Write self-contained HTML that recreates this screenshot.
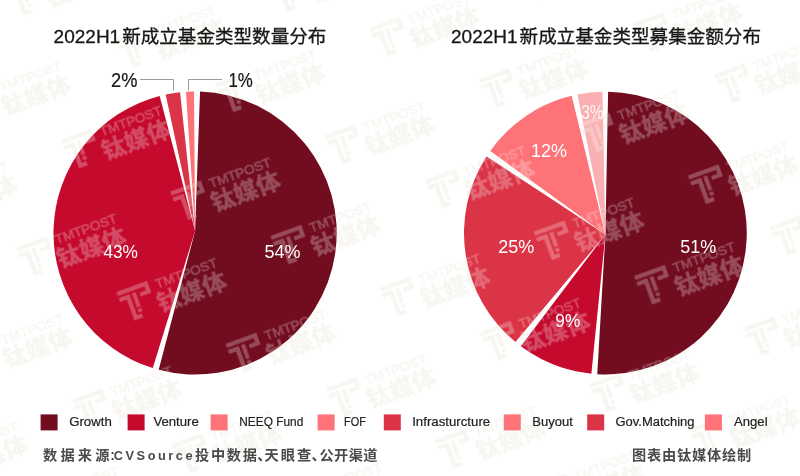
<!DOCTYPE html>
<html lang="zh-CN">
<head>
<meta charset="utf-8">
<title>2022H1新成立基金类型分布</title>
<style>
html,body{margin:0;padding:0;background:#fff;}
body{width:800px;height:476px;overflow:hidden;}
svg{display:block;font-family:'Liberation Sans','Noto Sans CJK SC',sans-serif;}
</style>
</head>
<body>
<svg width="800" height="476" viewBox="0 0 800 476">
<rect width="800" height="476" fill="#fff"/>
<g transform="rotate(-20.0)" fill="#D7CBAF" stroke="#D7CBAF" stroke-width="0" opacity="0.18"><g transform="translate(-233.6 400.2)"><path d="M0 0H32.6V12.5H21.5V8.5H28.3V4.4H0Z M0 6.6H11.6V33H7.2V10.8H0Z M11.6 28.8H16.6V33H11.6Z M14 6.6H18V21.5H14Z M14 23.2H18V27H14Z"/><text x="39.5" y="10.8" font-size="13.4" textLength="65" lengthAdjust="spacingAndGlyphs" stroke-width="0.5">TMTPOST</text><text x="34.8" y="33.6" font-size="22.5" font-weight="700" textLength="72" lengthAdjust="spacingAndGlyphs" stroke-width="0.4">钛媒体</text></g><g transform="translate(-69.6 -85.8)"><path d="M0 0H32.6V12.5H21.5V8.5H28.3V4.4H0Z M0 6.6H11.6V33H7.2V10.8H0Z M11.6 28.8H16.6V33H11.6Z M14 6.6H18V21.5H14Z M14 23.2H18V27H14Z"/><text x="39.5" y="10.8" font-size="13.4" textLength="65" lengthAdjust="spacingAndGlyphs" stroke-width="0.5">TMTPOST</text><text x="34.8" y="33.6" font-size="22.5" font-weight="700" textLength="72" lengthAdjust="spacingAndGlyphs" stroke-width="0.4">钛媒体</text></g><g transform="translate(-69.6 76.2)"><path d="M0 0H32.6V12.5H21.5V8.5H28.3V4.4H0Z M0 6.6H11.6V33H7.2V10.8H0Z M11.6 28.8H16.6V33H11.6Z M14 6.6H18V21.5H14Z M14 23.2H18V27H14Z"/><text x="39.5" y="10.8" font-size="13.4" textLength="65" lengthAdjust="spacingAndGlyphs" stroke-width="0.5">TMTPOST</text><text x="34.8" y="33.6" font-size="22.5" font-weight="700" textLength="72" lengthAdjust="spacingAndGlyphs" stroke-width="0.4">钛媒体</text></g><g transform="translate(-154.5 152.2)"><path d="M0 0H32.6V12.5H21.5V8.5H28.3V4.4H0Z M0 6.6H11.6V33H7.2V10.8H0Z M11.6 28.8H16.6V33H11.6Z M14 6.6H18V21.5H14Z M14 23.2H18V27H14Z"/><text x="39.5" y="10.8" font-size="13.4" textLength="65" lengthAdjust="spacingAndGlyphs" stroke-width="0.5">TMTPOST</text><text x="34.8" y="33.6" font-size="22.5" font-weight="700" textLength="72" lengthAdjust="spacingAndGlyphs" stroke-width="0.4">钛媒体</text></g><g transform="translate(-69.6 238.2)"><path d="M0 0H32.6V12.5H21.5V8.5H28.3V4.4H0Z M0 6.6H11.6V33H7.2V10.8H0Z M11.6 28.8H16.6V33H11.6Z M14 6.6H18V21.5H14Z M14 23.2H18V27H14Z"/><text x="39.5" y="10.8" font-size="13.4" textLength="65" lengthAdjust="spacingAndGlyphs" stroke-width="0.5">TMTPOST</text><text x="34.8" y="33.6" font-size="22.5" font-weight="700" textLength="72" lengthAdjust="spacingAndGlyphs" stroke-width="0.4">钛媒体</text></g><g transform="translate(-154.5 314.2)"><path d="M0 0H32.6V12.5H21.5V8.5H28.3V4.4H0Z M0 6.6H11.6V33H7.2V10.8H0Z M11.6 28.8H16.6V33H11.6Z M14 6.6H18V21.5H14Z M14 23.2H18V27H14Z"/><text x="39.5" y="10.8" font-size="13.4" textLength="65" lengthAdjust="spacingAndGlyphs" stroke-width="0.5">TMTPOST</text><text x="34.8" y="33.6" font-size="22.5" font-weight="700" textLength="72" lengthAdjust="spacingAndGlyphs" stroke-width="0.4">钛媒体</text></g><g transform="translate(-69.6 400.2)"><path d="M0 0H32.6V12.5H21.5V8.5H28.3V4.4H0Z M0 6.6H11.6V33H7.2V10.8H0Z M11.6 28.8H16.6V33H11.6Z M14 6.6H18V21.5H14Z M14 23.2H18V27H14Z"/><text x="39.5" y="10.8" font-size="13.4" textLength="65" lengthAdjust="spacingAndGlyphs" stroke-width="0.5">TMTPOST</text><text x="34.8" y="33.6" font-size="22.5" font-weight="700" textLength="72" lengthAdjust="spacingAndGlyphs" stroke-width="0.4">钛媒体</text></g><g transform="translate(-154.5 476.2)"><path d="M0 0H32.6V12.5H21.5V8.5H28.3V4.4H0Z M0 6.6H11.6V33H7.2V10.8H0Z M11.6 28.8H16.6V33H11.6Z M14 6.6H18V21.5H14Z M14 23.2H18V27H14Z"/><text x="39.5" y="10.8" font-size="13.4" textLength="65" lengthAdjust="spacingAndGlyphs" stroke-width="0.5">TMTPOST</text><text x="34.8" y="33.6" font-size="22.5" font-weight="700" textLength="72" lengthAdjust="spacingAndGlyphs" stroke-width="0.4">钛媒体</text></g><g transform="translate(9.5 -9.8)"><path d="M0 0H32.6V12.5H21.5V8.5H28.3V4.4H0Z M0 6.6H11.6V33H7.2V10.8H0Z M11.6 28.8H16.6V33H11.6Z M14 6.6H18V21.5H14Z M14 23.2H18V27H14Z"/><text x="39.5" y="10.8" font-size="13.4" textLength="65" lengthAdjust="spacingAndGlyphs" stroke-width="0.5">TMTPOST</text><text x="34.8" y="33.6" font-size="22.5" font-weight="700" textLength="72" lengthAdjust="spacingAndGlyphs" stroke-width="0.4">钛媒体</text></g><g transform="translate(94.4 76.2)"><path d="M0 0H32.6V12.5H21.5V8.5H28.3V4.4H0Z M0 6.6H11.6V33H7.2V10.8H0Z M11.6 28.8H16.6V33H11.6Z M14 6.6H18V21.5H14Z M14 23.2H18V27H14Z"/><text x="39.5" y="10.8" font-size="13.4" textLength="65" lengthAdjust="spacingAndGlyphs" stroke-width="0.5">TMTPOST</text><text x="34.8" y="33.6" font-size="22.5" font-weight="700" textLength="72" lengthAdjust="spacingAndGlyphs" stroke-width="0.4">钛媒体</text></g><g transform="translate(9.5 152.2)"><path d="M0 0H32.6V12.5H21.5V8.5H28.3V4.4H0Z M0 6.6H11.6V33H7.2V10.8H0Z M11.6 28.8H16.6V33H11.6Z M14 6.6H18V21.5H14Z M14 23.2H18V27H14Z"/><text x="39.5" y="10.8" font-size="13.4" textLength="65" lengthAdjust="spacingAndGlyphs" stroke-width="0.5">TMTPOST</text><text x="34.8" y="33.6" font-size="22.5" font-weight="700" textLength="72" lengthAdjust="spacingAndGlyphs" stroke-width="0.4">钛媒体</text></g><g transform="translate(94.4 238.2)"><path d="M0 0H32.6V12.5H21.5V8.5H28.3V4.4H0Z M0 6.6H11.6V33H7.2V10.8H0Z M11.6 28.8H16.6V33H11.6Z M14 6.6H18V21.5H14Z M14 23.2H18V27H14Z"/><text x="39.5" y="10.8" font-size="13.4" textLength="65" lengthAdjust="spacingAndGlyphs" stroke-width="0.5">TMTPOST</text><text x="34.8" y="33.6" font-size="22.5" font-weight="700" textLength="72" lengthAdjust="spacingAndGlyphs" stroke-width="0.4">钛媒体</text></g><g transform="translate(9.5 314.2)"><path d="M0 0H32.6V12.5H21.5V8.5H28.3V4.4H0Z M0 6.6H11.6V33H7.2V10.8H0Z M11.6 28.8H16.6V33H11.6Z M14 6.6H18V21.5H14Z M14 23.2H18V27H14Z"/><text x="39.5" y="10.8" font-size="13.4" textLength="65" lengthAdjust="spacingAndGlyphs" stroke-width="0.5">TMTPOST</text><text x="34.8" y="33.6" font-size="22.5" font-weight="700" textLength="72" lengthAdjust="spacingAndGlyphs" stroke-width="0.4">钛媒体</text></g><g transform="translate(94.4 400.2)"><path d="M0 0H32.6V12.5H21.5V8.5H28.3V4.4H0Z M0 6.6H11.6V33H7.2V10.8H0Z M11.6 28.8H16.6V33H11.6Z M14 6.6H18V21.5H14Z M14 23.2H18V27H14Z"/><text x="39.5" y="10.8" font-size="13.4" textLength="65" lengthAdjust="spacingAndGlyphs" stroke-width="0.5">TMTPOST</text><text x="34.8" y="33.6" font-size="22.5" font-weight="700" textLength="72" lengthAdjust="spacingAndGlyphs" stroke-width="0.4">钛媒体</text></g><g transform="translate(9.5 476.2)"><path d="M0 0H32.6V12.5H21.5V8.5H28.3V4.4H0Z M0 6.6H11.6V33H7.2V10.8H0Z M11.6 28.8H16.6V33H11.6Z M14 6.6H18V21.5H14Z M14 23.2H18V27H14Z"/><text x="39.5" y="10.8" font-size="13.4" textLength="65" lengthAdjust="spacingAndGlyphs" stroke-width="0.5">TMTPOST</text><text x="34.8" y="33.6" font-size="22.5" font-weight="700" textLength="72" lengthAdjust="spacingAndGlyphs" stroke-width="0.4">钛媒体</text></g><g transform="translate(94.4 562.2)"><path d="M0 0H32.6V12.5H21.5V8.5H28.3V4.4H0Z M0 6.6H11.6V33H7.2V10.8H0Z M11.6 28.8H16.6V33H11.6Z M14 6.6H18V21.5H14Z M14 23.2H18V27H14Z"/><text x="39.5" y="10.8" font-size="13.4" textLength="65" lengthAdjust="spacingAndGlyphs" stroke-width="0.5">TMTPOST</text><text x="34.8" y="33.6" font-size="22.5" font-weight="700" textLength="72" lengthAdjust="spacingAndGlyphs" stroke-width="0.4">钛媒体</text></g><g transform="translate(258.4 76.2)"><path d="M0 0H32.6V12.5H21.5V8.5H28.3V4.4H0Z M0 6.6H11.6V33H7.2V10.8H0Z M11.6 28.8H16.6V33H11.6Z M14 6.6H18V21.5H14Z M14 23.2H18V27H14Z"/><text x="39.5" y="10.8" font-size="13.4" textLength="65" lengthAdjust="spacingAndGlyphs" stroke-width="0.5">TMTPOST</text><text x="34.8" y="33.6" font-size="22.5" font-weight="700" textLength="72" lengthAdjust="spacingAndGlyphs" stroke-width="0.4">钛媒体</text></g><g transform="translate(173.5 152.2)"><path d="M0 0H32.6V12.5H21.5V8.5H28.3V4.4H0Z M0 6.6H11.6V33H7.2V10.8H0Z M11.6 28.8H16.6V33H11.6Z M14 6.6H18V21.5H14Z M14 23.2H18V27H14Z"/><text x="39.5" y="10.8" font-size="13.4" textLength="65" lengthAdjust="spacingAndGlyphs" stroke-width="0.5">TMTPOST</text><text x="34.8" y="33.6" font-size="22.5" font-weight="700" textLength="72" lengthAdjust="spacingAndGlyphs" stroke-width="0.4">钛媒体</text></g><g transform="translate(258.4 238.2)"><path d="M0 0H32.6V12.5H21.5V8.5H28.3V4.4H0Z M0 6.6H11.6V33H7.2V10.8H0Z M11.6 28.8H16.6V33H11.6Z M14 6.6H18V21.5H14Z M14 23.2H18V27H14Z"/><text x="39.5" y="10.8" font-size="13.4" textLength="65" lengthAdjust="spacingAndGlyphs" stroke-width="0.5">TMTPOST</text><text x="34.8" y="33.6" font-size="22.5" font-weight="700" textLength="72" lengthAdjust="spacingAndGlyphs" stroke-width="0.4">钛媒体</text></g><g transform="translate(173.5 314.2)"><path d="M0 0H32.6V12.5H21.5V8.5H28.3V4.4H0Z M0 6.6H11.6V33H7.2V10.8H0Z M11.6 28.8H16.6V33H11.6Z M14 6.6H18V21.5H14Z M14 23.2H18V27H14Z"/><text x="39.5" y="10.8" font-size="13.4" textLength="65" lengthAdjust="spacingAndGlyphs" stroke-width="0.5">TMTPOST</text><text x="34.8" y="33.6" font-size="22.5" font-weight="700" textLength="72" lengthAdjust="spacingAndGlyphs" stroke-width="0.4">钛媒体</text></g><g transform="translate(258.4 400.2)"><path d="M0 0H32.6V12.5H21.5V8.5H28.3V4.4H0Z M0 6.6H11.6V33H7.2V10.8H0Z M11.6 28.8H16.6V33H11.6Z M14 6.6H18V21.5H14Z M14 23.2H18V27H14Z"/><text x="39.5" y="10.8" font-size="13.4" textLength="65" lengthAdjust="spacingAndGlyphs" stroke-width="0.5">TMTPOST</text><text x="34.8" y="33.6" font-size="22.5" font-weight="700" textLength="72" lengthAdjust="spacingAndGlyphs" stroke-width="0.4">钛媒体</text></g><g transform="translate(173.5 476.2)"><path d="M0 0H32.6V12.5H21.5V8.5H28.3V4.4H0Z M0 6.6H11.6V33H7.2V10.8H0Z M11.6 28.8H16.6V33H11.6Z M14 6.6H18V21.5H14Z M14 23.2H18V27H14Z"/><text x="39.5" y="10.8" font-size="13.4" textLength="65" lengthAdjust="spacingAndGlyphs" stroke-width="0.5">TMTPOST</text><text x="34.8" y="33.6" font-size="22.5" font-weight="700" textLength="72" lengthAdjust="spacingAndGlyphs" stroke-width="0.4">钛媒体</text></g><g transform="translate(258.4 562.2)"><path d="M0 0H32.6V12.5H21.5V8.5H28.3V4.4H0Z M0 6.6H11.6V33H7.2V10.8H0Z M11.6 28.8H16.6V33H11.6Z M14 6.6H18V21.5H14Z M14 23.2H18V27H14Z"/><text x="39.5" y="10.8" font-size="13.4" textLength="65" lengthAdjust="spacingAndGlyphs" stroke-width="0.5">TMTPOST</text><text x="34.8" y="33.6" font-size="22.5" font-weight="700" textLength="72" lengthAdjust="spacingAndGlyphs" stroke-width="0.4">钛媒体</text></g><g transform="translate(337.5 152.2)"><path d="M0 0H32.6V12.5H21.5V8.5H28.3V4.4H0Z M0 6.6H11.6V33H7.2V10.8H0Z M11.6 28.8H16.6V33H11.6Z M14 6.6H18V21.5H14Z M14 23.2H18V27H14Z"/><text x="39.5" y="10.8" font-size="13.4" textLength="65" lengthAdjust="spacingAndGlyphs" stroke-width="0.5">TMTPOST</text><text x="34.8" y="33.6" font-size="22.5" font-weight="700" textLength="72" lengthAdjust="spacingAndGlyphs" stroke-width="0.4">钛媒体</text></g><g transform="translate(422.4 238.2)"><path d="M0 0H32.6V12.5H21.5V8.5H28.3V4.4H0Z M0 6.6H11.6V33H7.2V10.8H0Z M11.6 28.8H16.6V33H11.6Z M14 6.6H18V21.5H14Z M14 23.2H18V27H14Z"/><text x="39.5" y="10.8" font-size="13.4" textLength="65" lengthAdjust="spacingAndGlyphs" stroke-width="0.5">TMTPOST</text><text x="34.8" y="33.6" font-size="22.5" font-weight="700" textLength="72" lengthAdjust="spacingAndGlyphs" stroke-width="0.4">钛媒体</text></g><g transform="translate(337.5 314.2)"><path d="M0 0H32.6V12.5H21.5V8.5H28.3V4.4H0Z M0 6.6H11.6V33H7.2V10.8H0Z M11.6 28.8H16.6V33H11.6Z M14 6.6H18V21.5H14Z M14 23.2H18V27H14Z"/><text x="39.5" y="10.8" font-size="13.4" textLength="65" lengthAdjust="spacingAndGlyphs" stroke-width="0.5">TMTPOST</text><text x="34.8" y="33.6" font-size="22.5" font-weight="700" textLength="72" lengthAdjust="spacingAndGlyphs" stroke-width="0.4">钛媒体</text></g><g transform="translate(422.4 400.2)"><path d="M0 0H32.6V12.5H21.5V8.5H28.3V4.4H0Z M0 6.6H11.6V33H7.2V10.8H0Z M11.6 28.8H16.6V33H11.6Z M14 6.6H18V21.5H14Z M14 23.2H18V27H14Z"/><text x="39.5" y="10.8" font-size="13.4" textLength="65" lengthAdjust="spacingAndGlyphs" stroke-width="0.5">TMTPOST</text><text x="34.8" y="33.6" font-size="22.5" font-weight="700" textLength="72" lengthAdjust="spacingAndGlyphs" stroke-width="0.4">钛媒体</text></g><g transform="translate(337.5 476.2)"><path d="M0 0H32.6V12.5H21.5V8.5H28.3V4.4H0Z M0 6.6H11.6V33H7.2V10.8H0Z M11.6 28.8H16.6V33H11.6Z M14 6.6H18V21.5H14Z M14 23.2H18V27H14Z"/><text x="39.5" y="10.8" font-size="13.4" textLength="65" lengthAdjust="spacingAndGlyphs" stroke-width="0.5">TMTPOST</text><text x="34.8" y="33.6" font-size="22.5" font-weight="700" textLength="72" lengthAdjust="spacingAndGlyphs" stroke-width="0.4">钛媒体</text></g><g transform="translate(422.4 562.2)"><path d="M0 0H32.6V12.5H21.5V8.5H28.3V4.4H0Z M0 6.6H11.6V33H7.2V10.8H0Z M11.6 28.8H16.6V33H11.6Z M14 6.6H18V21.5H14Z M14 23.2H18V27H14Z"/><text x="39.5" y="10.8" font-size="13.4" textLength="65" lengthAdjust="spacingAndGlyphs" stroke-width="0.5">TMTPOST</text><text x="34.8" y="33.6" font-size="22.5" font-weight="700" textLength="72" lengthAdjust="spacingAndGlyphs" stroke-width="0.4">钛媒体</text></g><g transform="translate(337.5 638.2)"><path d="M0 0H32.6V12.5H21.5V8.5H28.3V4.4H0Z M0 6.6H11.6V33H7.2V10.8H0Z M11.6 28.8H16.6V33H11.6Z M14 6.6H18V21.5H14Z M14 23.2H18V27H14Z"/><text x="39.5" y="10.8" font-size="13.4" textLength="65" lengthAdjust="spacingAndGlyphs" stroke-width="0.5">TMTPOST</text><text x="34.8" y="33.6" font-size="22.5" font-weight="700" textLength="72" lengthAdjust="spacingAndGlyphs" stroke-width="0.4">钛媒体</text></g><g transform="translate(501.5 152.2)"><path d="M0 0H32.6V12.5H21.5V8.5H28.3V4.4H0Z M0 6.6H11.6V33H7.2V10.8H0Z M11.6 28.8H16.6V33H11.6Z M14 6.6H18V21.5H14Z M14 23.2H18V27H14Z"/><text x="39.5" y="10.8" font-size="13.4" textLength="65" lengthAdjust="spacingAndGlyphs" stroke-width="0.5">TMTPOST</text><text x="34.8" y="33.6" font-size="22.5" font-weight="700" textLength="72" lengthAdjust="spacingAndGlyphs" stroke-width="0.4">钛媒体</text></g><g transform="translate(586.4 238.2)"><path d="M0 0H32.6V12.5H21.5V8.5H28.3V4.4H0Z M0 6.6H11.6V33H7.2V10.8H0Z M11.6 28.8H16.6V33H11.6Z M14 6.6H18V21.5H14Z M14 23.2H18V27H14Z"/><text x="39.5" y="10.8" font-size="13.4" textLength="65" lengthAdjust="spacingAndGlyphs" stroke-width="0.5">TMTPOST</text><text x="34.8" y="33.6" font-size="22.5" font-weight="700" textLength="72" lengthAdjust="spacingAndGlyphs" stroke-width="0.4">钛媒体</text></g><g transform="translate(501.5 314.2)"><path d="M0 0H32.6V12.5H21.5V8.5H28.3V4.4H0Z M0 6.6H11.6V33H7.2V10.8H0Z M11.6 28.8H16.6V33H11.6Z M14 6.6H18V21.5H14Z M14 23.2H18V27H14Z"/><text x="39.5" y="10.8" font-size="13.4" textLength="65" lengthAdjust="spacingAndGlyphs" stroke-width="0.5">TMTPOST</text><text x="34.8" y="33.6" font-size="22.5" font-weight="700" textLength="72" lengthAdjust="spacingAndGlyphs" stroke-width="0.4">钛媒体</text></g><g transform="translate(586.4 400.2)"><path d="M0 0H32.6V12.5H21.5V8.5H28.3V4.4H0Z M0 6.6H11.6V33H7.2V10.8H0Z M11.6 28.8H16.6V33H11.6Z M14 6.6H18V21.5H14Z M14 23.2H18V27H14Z"/><text x="39.5" y="10.8" font-size="13.4" textLength="65" lengthAdjust="spacingAndGlyphs" stroke-width="0.5">TMTPOST</text><text x="34.8" y="33.6" font-size="22.5" font-weight="700" textLength="72" lengthAdjust="spacingAndGlyphs" stroke-width="0.4">钛媒体</text></g><g transform="translate(501.5 476.2)"><path d="M0 0H32.6V12.5H21.5V8.5H28.3V4.4H0Z M0 6.6H11.6V33H7.2V10.8H0Z M11.6 28.8H16.6V33H11.6Z M14 6.6H18V21.5H14Z M14 23.2H18V27H14Z"/><text x="39.5" y="10.8" font-size="13.4" textLength="65" lengthAdjust="spacingAndGlyphs" stroke-width="0.5">TMTPOST</text><text x="34.8" y="33.6" font-size="22.5" font-weight="700" textLength="72" lengthAdjust="spacingAndGlyphs" stroke-width="0.4">钛媒体</text></g><g transform="translate(586.4 562.2)"><path d="M0 0H32.6V12.5H21.5V8.5H28.3V4.4H0Z M0 6.6H11.6V33H7.2V10.8H0Z M11.6 28.8H16.6V33H11.6Z M14 6.6H18V21.5H14Z M14 23.2H18V27H14Z"/><text x="39.5" y="10.8" font-size="13.4" textLength="65" lengthAdjust="spacingAndGlyphs" stroke-width="0.5">TMTPOST</text><text x="34.8" y="33.6" font-size="22.5" font-weight="700" textLength="72" lengthAdjust="spacingAndGlyphs" stroke-width="0.4">钛媒体</text></g><g transform="translate(501.5 638.2)"><path d="M0 0H32.6V12.5H21.5V8.5H28.3V4.4H0Z M0 6.6H11.6V33H7.2V10.8H0Z M11.6 28.8H16.6V33H11.6Z M14 6.6H18V21.5H14Z M14 23.2H18V27H14Z"/><text x="39.5" y="10.8" font-size="13.4" textLength="65" lengthAdjust="spacingAndGlyphs" stroke-width="0.5">TMTPOST</text><text x="34.8" y="33.6" font-size="22.5" font-weight="700" textLength="72" lengthAdjust="spacingAndGlyphs" stroke-width="0.4">钛媒体</text></g><g transform="translate(586.4 724.2)"><path d="M0 0H32.6V12.5H21.5V8.5H28.3V4.4H0Z M0 6.6H11.6V33H7.2V10.8H0Z M11.6 28.8H16.6V33H11.6Z M14 6.6H18V21.5H14Z M14 23.2H18V27H14Z"/><text x="39.5" y="10.8" font-size="13.4" textLength="65" lengthAdjust="spacingAndGlyphs" stroke-width="0.5">TMTPOST</text><text x="34.8" y="33.6" font-size="22.5" font-weight="700" textLength="72" lengthAdjust="spacingAndGlyphs" stroke-width="0.4">钛媒体</text></g><g transform="translate(750.4 238.2)"><path d="M0 0H32.6V12.5H21.5V8.5H28.3V4.4H0Z M0 6.6H11.6V33H7.2V10.8H0Z M11.6 28.8H16.6V33H11.6Z M14 6.6H18V21.5H14Z M14 23.2H18V27H14Z"/><text x="39.5" y="10.8" font-size="13.4" textLength="65" lengthAdjust="spacingAndGlyphs" stroke-width="0.5">TMTPOST</text><text x="34.8" y="33.6" font-size="22.5" font-weight="700" textLength="72" lengthAdjust="spacingAndGlyphs" stroke-width="0.4">钛媒体</text></g><g transform="translate(645.5 314.2)"><path d="M0 0H32.6V12.5H21.5V8.5H28.3V4.4H0Z M0 6.6H11.6V33H7.2V10.8H0Z M11.6 28.8H16.6V33H11.6Z M14 6.6H18V21.5H14Z M14 23.2H18V27H14Z"/><text x="39.5" y="10.8" font-size="13.4" textLength="65" lengthAdjust="spacingAndGlyphs" stroke-width="0.5">TMTPOST</text><text x="34.8" y="33.6" font-size="22.5" font-weight="700" textLength="72" lengthAdjust="spacingAndGlyphs" stroke-width="0.4">钛媒体</text></g><g transform="translate(645.5 476.2)"><path d="M0 0H32.6V12.5H21.5V8.5H28.3V4.4H0Z M0 6.6H11.6V33H7.2V10.8H0Z M11.6 28.8H16.6V33H11.6Z M14 6.6H18V21.5H14Z M14 23.2H18V27H14Z"/><text x="39.5" y="10.8" font-size="13.4" textLength="65" lengthAdjust="spacingAndGlyphs" stroke-width="0.5">TMTPOST</text><text x="34.8" y="33.6" font-size="22.5" font-weight="700" textLength="72" lengthAdjust="spacingAndGlyphs" stroke-width="0.4">钛媒体</text></g><g transform="translate(645.5 638.2)"><path d="M0 0H32.6V12.5H21.5V8.5H28.3V4.4H0Z M0 6.6H11.6V33H7.2V10.8H0Z M11.6 28.8H16.6V33H11.6Z M14 6.6H18V21.5H14Z M14 23.2H18V27H14Z"/><text x="39.5" y="10.8" font-size="13.4" textLength="65" lengthAdjust="spacingAndGlyphs" stroke-width="0.5">TMTPOST</text><text x="34.8" y="33.6" font-size="22.5" font-weight="700" textLength="72" lengthAdjust="spacingAndGlyphs" stroke-width="0.4">钛媒体</text></g></g>
<g id="pies">
<path d="M195.10 231.00L200.04 91.49A141.6 141.6 0 1 1 158.69 369.84Z" fill="#720C1F"/>
<path d="M195.10 231.00L152.76 368.12A141.6 141.6 0 0 1 159.65 95.91Z" fill="#C50A2E"/>
<path d="M195.10 231.00L165.66 94.49A141.6 141.6 0 0 1 180.05 92.20Z" fill="#DB3446"/>
<path d="M195.10 231.00L185.96 91.70A141.6 141.6 0 0 1 193.99 91.40Z" fill="#FD7378"/>
<path d="M605.40 234.40L608.11 91.63A141.4 141.4 0 1 1 597.26 374.17Z" fill="#720C1F"/>
<path d="M605.40 234.40L591.36 373.70A141.4 141.4 0 0 1 520.90 346.37Z" fill="#C50A2E"/>
<path d="M605.40 234.40L515.46 342.11A141.4 141.4 0 0 1 486.54 156.40Z" fill="#DB3446"/>
<path d="M605.40 234.40L490.28 150.89A141.4 141.4 0 0 1 571.67 95.68Z" fill="#FD7378"/>
<path d="M605.40 234.40L577.45 94.39A141.4 141.4 0 0 1 602.44 91.63Z" fill="#FAB0B2"/>
</g>
<clipPath id="pieclip"><path d="M195.10 231.00L200.04 91.49A141.6 141.6 0 1 1 158.69 369.84Z"/><path d="M195.10 231.00L152.76 368.12A141.6 141.6 0 0 1 159.65 95.91Z"/><path d="M195.10 231.00L165.66 94.49A141.6 141.6 0 0 1 180.05 92.20Z"/><path d="M195.10 231.00L185.96 91.70A141.6 141.6 0 0 1 193.99 91.40Z"/><path d="M605.40 234.40L608.11 91.63A141.4 141.4 0 1 1 597.26 374.17Z"/><path d="M605.40 234.40L591.36 373.70A141.4 141.4 0 0 1 520.90 346.37Z"/><path d="M605.40 234.40L515.46 342.11A141.4 141.4 0 0 1 486.54 156.40Z"/><path d="M605.40 234.40L490.28 150.89A141.4 141.4 0 0 1 571.67 95.68Z"/><path d="M605.40 234.40L577.45 94.39A141.4 141.4 0 0 1 602.44 91.63Z"/></clipPath><g clip-path="url(#pieclip)"><g transform="rotate(-20.0)" fill="#FFFFFF" stroke="#FFFFFF" stroke-width="0" opacity="0.27"><g transform="translate(-233.6 400.2)"><path d="M0 0H32.6V12.5H21.5V8.5H28.3V4.4H0Z M0 6.6H11.6V33H7.2V10.8H0Z M11.6 28.8H16.6V33H11.6Z M14 6.6H18V21.5H14Z M14 23.2H18V27H14Z"/><text x="39.5" y="10.8" font-size="13.4" textLength="65" lengthAdjust="spacingAndGlyphs" stroke-width="0.5">TMTPOST</text><text x="34.8" y="33.6" font-size="22.5" font-weight="700" textLength="72" lengthAdjust="spacingAndGlyphs" stroke-width="0.4">钛媒体</text></g><g transform="translate(-69.6 -85.8)"><path d="M0 0H32.6V12.5H21.5V8.5H28.3V4.4H0Z M0 6.6H11.6V33H7.2V10.8H0Z M11.6 28.8H16.6V33H11.6Z M14 6.6H18V21.5H14Z M14 23.2H18V27H14Z"/><text x="39.5" y="10.8" font-size="13.4" textLength="65" lengthAdjust="spacingAndGlyphs" stroke-width="0.5">TMTPOST</text><text x="34.8" y="33.6" font-size="22.5" font-weight="700" textLength="72" lengthAdjust="spacingAndGlyphs" stroke-width="0.4">钛媒体</text></g><g transform="translate(-69.6 76.2)"><path d="M0 0H32.6V12.5H21.5V8.5H28.3V4.4H0Z M0 6.6H11.6V33H7.2V10.8H0Z M11.6 28.8H16.6V33H11.6Z M14 6.6H18V21.5H14Z M14 23.2H18V27H14Z"/><text x="39.5" y="10.8" font-size="13.4" textLength="65" lengthAdjust="spacingAndGlyphs" stroke-width="0.5">TMTPOST</text><text x="34.8" y="33.6" font-size="22.5" font-weight="700" textLength="72" lengthAdjust="spacingAndGlyphs" stroke-width="0.4">钛媒体</text></g><g transform="translate(-154.5 152.2)"><path d="M0 0H32.6V12.5H21.5V8.5H28.3V4.4H0Z M0 6.6H11.6V33H7.2V10.8H0Z M11.6 28.8H16.6V33H11.6Z M14 6.6H18V21.5H14Z M14 23.2H18V27H14Z"/><text x="39.5" y="10.8" font-size="13.4" textLength="65" lengthAdjust="spacingAndGlyphs" stroke-width="0.5">TMTPOST</text><text x="34.8" y="33.6" font-size="22.5" font-weight="700" textLength="72" lengthAdjust="spacingAndGlyphs" stroke-width="0.4">钛媒体</text></g><g transform="translate(-69.6 238.2)"><path d="M0 0H32.6V12.5H21.5V8.5H28.3V4.4H0Z M0 6.6H11.6V33H7.2V10.8H0Z M11.6 28.8H16.6V33H11.6Z M14 6.6H18V21.5H14Z M14 23.2H18V27H14Z"/><text x="39.5" y="10.8" font-size="13.4" textLength="65" lengthAdjust="spacingAndGlyphs" stroke-width="0.5">TMTPOST</text><text x="34.8" y="33.6" font-size="22.5" font-weight="700" textLength="72" lengthAdjust="spacingAndGlyphs" stroke-width="0.4">钛媒体</text></g><g transform="translate(-154.5 314.2)"><path d="M0 0H32.6V12.5H21.5V8.5H28.3V4.4H0Z M0 6.6H11.6V33H7.2V10.8H0Z M11.6 28.8H16.6V33H11.6Z M14 6.6H18V21.5H14Z M14 23.2H18V27H14Z"/><text x="39.5" y="10.8" font-size="13.4" textLength="65" lengthAdjust="spacingAndGlyphs" stroke-width="0.5">TMTPOST</text><text x="34.8" y="33.6" font-size="22.5" font-weight="700" textLength="72" lengthAdjust="spacingAndGlyphs" stroke-width="0.4">钛媒体</text></g><g transform="translate(-69.6 400.2)"><path d="M0 0H32.6V12.5H21.5V8.5H28.3V4.4H0Z M0 6.6H11.6V33H7.2V10.8H0Z M11.6 28.8H16.6V33H11.6Z M14 6.6H18V21.5H14Z M14 23.2H18V27H14Z"/><text x="39.5" y="10.8" font-size="13.4" textLength="65" lengthAdjust="spacingAndGlyphs" stroke-width="0.5">TMTPOST</text><text x="34.8" y="33.6" font-size="22.5" font-weight="700" textLength="72" lengthAdjust="spacingAndGlyphs" stroke-width="0.4">钛媒体</text></g><g transform="translate(-154.5 476.2)"><path d="M0 0H32.6V12.5H21.5V8.5H28.3V4.4H0Z M0 6.6H11.6V33H7.2V10.8H0Z M11.6 28.8H16.6V33H11.6Z M14 6.6H18V21.5H14Z M14 23.2H18V27H14Z"/><text x="39.5" y="10.8" font-size="13.4" textLength="65" lengthAdjust="spacingAndGlyphs" stroke-width="0.5">TMTPOST</text><text x="34.8" y="33.6" font-size="22.5" font-weight="700" textLength="72" lengthAdjust="spacingAndGlyphs" stroke-width="0.4">钛媒体</text></g><g transform="translate(9.5 -9.8)"><path d="M0 0H32.6V12.5H21.5V8.5H28.3V4.4H0Z M0 6.6H11.6V33H7.2V10.8H0Z M11.6 28.8H16.6V33H11.6Z M14 6.6H18V21.5H14Z M14 23.2H18V27H14Z"/><text x="39.5" y="10.8" font-size="13.4" textLength="65" lengthAdjust="spacingAndGlyphs" stroke-width="0.5">TMTPOST</text><text x="34.8" y="33.6" font-size="22.5" font-weight="700" textLength="72" lengthAdjust="spacingAndGlyphs" stroke-width="0.4">钛媒体</text></g><g transform="translate(94.4 76.2)"><path d="M0 0H32.6V12.5H21.5V8.5H28.3V4.4H0Z M0 6.6H11.6V33H7.2V10.8H0Z M11.6 28.8H16.6V33H11.6Z M14 6.6H18V21.5H14Z M14 23.2H18V27H14Z"/><text x="39.5" y="10.8" font-size="13.4" textLength="65" lengthAdjust="spacingAndGlyphs" stroke-width="0.5">TMTPOST</text><text x="34.8" y="33.6" font-size="22.5" font-weight="700" textLength="72" lengthAdjust="spacingAndGlyphs" stroke-width="0.4">钛媒体</text></g><g transform="translate(9.5 152.2)"><path d="M0 0H32.6V12.5H21.5V8.5H28.3V4.4H0Z M0 6.6H11.6V33H7.2V10.8H0Z M11.6 28.8H16.6V33H11.6Z M14 6.6H18V21.5H14Z M14 23.2H18V27H14Z"/><text x="39.5" y="10.8" font-size="13.4" textLength="65" lengthAdjust="spacingAndGlyphs" stroke-width="0.5">TMTPOST</text><text x="34.8" y="33.6" font-size="22.5" font-weight="700" textLength="72" lengthAdjust="spacingAndGlyphs" stroke-width="0.4">钛媒体</text></g><g transform="translate(94.4 238.2)"><path d="M0 0H32.6V12.5H21.5V8.5H28.3V4.4H0Z M0 6.6H11.6V33H7.2V10.8H0Z M11.6 28.8H16.6V33H11.6Z M14 6.6H18V21.5H14Z M14 23.2H18V27H14Z"/><text x="39.5" y="10.8" font-size="13.4" textLength="65" lengthAdjust="spacingAndGlyphs" stroke-width="0.5">TMTPOST</text><text x="34.8" y="33.6" font-size="22.5" font-weight="700" textLength="72" lengthAdjust="spacingAndGlyphs" stroke-width="0.4">钛媒体</text></g><g transform="translate(9.5 314.2)"><path d="M0 0H32.6V12.5H21.5V8.5H28.3V4.4H0Z M0 6.6H11.6V33H7.2V10.8H0Z M11.6 28.8H16.6V33H11.6Z M14 6.6H18V21.5H14Z M14 23.2H18V27H14Z"/><text x="39.5" y="10.8" font-size="13.4" textLength="65" lengthAdjust="spacingAndGlyphs" stroke-width="0.5">TMTPOST</text><text x="34.8" y="33.6" font-size="22.5" font-weight="700" textLength="72" lengthAdjust="spacingAndGlyphs" stroke-width="0.4">钛媒体</text></g><g transform="translate(94.4 400.2)"><path d="M0 0H32.6V12.5H21.5V8.5H28.3V4.4H0Z M0 6.6H11.6V33H7.2V10.8H0Z M11.6 28.8H16.6V33H11.6Z M14 6.6H18V21.5H14Z M14 23.2H18V27H14Z"/><text x="39.5" y="10.8" font-size="13.4" textLength="65" lengthAdjust="spacingAndGlyphs" stroke-width="0.5">TMTPOST</text><text x="34.8" y="33.6" font-size="22.5" font-weight="700" textLength="72" lengthAdjust="spacingAndGlyphs" stroke-width="0.4">钛媒体</text></g><g transform="translate(9.5 476.2)"><path d="M0 0H32.6V12.5H21.5V8.5H28.3V4.4H0Z M0 6.6H11.6V33H7.2V10.8H0Z M11.6 28.8H16.6V33H11.6Z M14 6.6H18V21.5H14Z M14 23.2H18V27H14Z"/><text x="39.5" y="10.8" font-size="13.4" textLength="65" lengthAdjust="spacingAndGlyphs" stroke-width="0.5">TMTPOST</text><text x="34.8" y="33.6" font-size="22.5" font-weight="700" textLength="72" lengthAdjust="spacingAndGlyphs" stroke-width="0.4">钛媒体</text></g><g transform="translate(94.4 562.2)"><path d="M0 0H32.6V12.5H21.5V8.5H28.3V4.4H0Z M0 6.6H11.6V33H7.2V10.8H0Z M11.6 28.8H16.6V33H11.6Z M14 6.6H18V21.5H14Z M14 23.2H18V27H14Z"/><text x="39.5" y="10.8" font-size="13.4" textLength="65" lengthAdjust="spacingAndGlyphs" stroke-width="0.5">TMTPOST</text><text x="34.8" y="33.6" font-size="22.5" font-weight="700" textLength="72" lengthAdjust="spacingAndGlyphs" stroke-width="0.4">钛媒体</text></g><g transform="translate(258.4 76.2)"><path d="M0 0H32.6V12.5H21.5V8.5H28.3V4.4H0Z M0 6.6H11.6V33H7.2V10.8H0Z M11.6 28.8H16.6V33H11.6Z M14 6.6H18V21.5H14Z M14 23.2H18V27H14Z"/><text x="39.5" y="10.8" font-size="13.4" textLength="65" lengthAdjust="spacingAndGlyphs" stroke-width="0.5">TMTPOST</text><text x="34.8" y="33.6" font-size="22.5" font-weight="700" textLength="72" lengthAdjust="spacingAndGlyphs" stroke-width="0.4">钛媒体</text></g><g transform="translate(173.5 152.2)"><path d="M0 0H32.6V12.5H21.5V8.5H28.3V4.4H0Z M0 6.6H11.6V33H7.2V10.8H0Z M11.6 28.8H16.6V33H11.6Z M14 6.6H18V21.5H14Z M14 23.2H18V27H14Z"/><text x="39.5" y="10.8" font-size="13.4" textLength="65" lengthAdjust="spacingAndGlyphs" stroke-width="0.5">TMTPOST</text><text x="34.8" y="33.6" font-size="22.5" font-weight="700" textLength="72" lengthAdjust="spacingAndGlyphs" stroke-width="0.4">钛媒体</text></g><g transform="translate(258.4 238.2)"><path d="M0 0H32.6V12.5H21.5V8.5H28.3V4.4H0Z M0 6.6H11.6V33H7.2V10.8H0Z M11.6 28.8H16.6V33H11.6Z M14 6.6H18V21.5H14Z M14 23.2H18V27H14Z"/><text x="39.5" y="10.8" font-size="13.4" textLength="65" lengthAdjust="spacingAndGlyphs" stroke-width="0.5">TMTPOST</text><text x="34.8" y="33.6" font-size="22.5" font-weight="700" textLength="72" lengthAdjust="spacingAndGlyphs" stroke-width="0.4">钛媒体</text></g><g transform="translate(173.5 314.2)"><path d="M0 0H32.6V12.5H21.5V8.5H28.3V4.4H0Z M0 6.6H11.6V33H7.2V10.8H0Z M11.6 28.8H16.6V33H11.6Z M14 6.6H18V21.5H14Z M14 23.2H18V27H14Z"/><text x="39.5" y="10.8" font-size="13.4" textLength="65" lengthAdjust="spacingAndGlyphs" stroke-width="0.5">TMTPOST</text><text x="34.8" y="33.6" font-size="22.5" font-weight="700" textLength="72" lengthAdjust="spacingAndGlyphs" stroke-width="0.4">钛媒体</text></g><g transform="translate(258.4 400.2)"><path d="M0 0H32.6V12.5H21.5V8.5H28.3V4.4H0Z M0 6.6H11.6V33H7.2V10.8H0Z M11.6 28.8H16.6V33H11.6Z M14 6.6H18V21.5H14Z M14 23.2H18V27H14Z"/><text x="39.5" y="10.8" font-size="13.4" textLength="65" lengthAdjust="spacingAndGlyphs" stroke-width="0.5">TMTPOST</text><text x="34.8" y="33.6" font-size="22.5" font-weight="700" textLength="72" lengthAdjust="spacingAndGlyphs" stroke-width="0.4">钛媒体</text></g><g transform="translate(173.5 476.2)"><path d="M0 0H32.6V12.5H21.5V8.5H28.3V4.4H0Z M0 6.6H11.6V33H7.2V10.8H0Z M11.6 28.8H16.6V33H11.6Z M14 6.6H18V21.5H14Z M14 23.2H18V27H14Z"/><text x="39.5" y="10.8" font-size="13.4" textLength="65" lengthAdjust="spacingAndGlyphs" stroke-width="0.5">TMTPOST</text><text x="34.8" y="33.6" font-size="22.5" font-weight="700" textLength="72" lengthAdjust="spacingAndGlyphs" stroke-width="0.4">钛媒体</text></g><g transform="translate(258.4 562.2)"><path d="M0 0H32.6V12.5H21.5V8.5H28.3V4.4H0Z M0 6.6H11.6V33H7.2V10.8H0Z M11.6 28.8H16.6V33H11.6Z M14 6.6H18V21.5H14Z M14 23.2H18V27H14Z"/><text x="39.5" y="10.8" font-size="13.4" textLength="65" lengthAdjust="spacingAndGlyphs" stroke-width="0.5">TMTPOST</text><text x="34.8" y="33.6" font-size="22.5" font-weight="700" textLength="72" lengthAdjust="spacingAndGlyphs" stroke-width="0.4">钛媒体</text></g><g transform="translate(337.5 152.2)"><path d="M0 0H32.6V12.5H21.5V8.5H28.3V4.4H0Z M0 6.6H11.6V33H7.2V10.8H0Z M11.6 28.8H16.6V33H11.6Z M14 6.6H18V21.5H14Z M14 23.2H18V27H14Z"/><text x="39.5" y="10.8" font-size="13.4" textLength="65" lengthAdjust="spacingAndGlyphs" stroke-width="0.5">TMTPOST</text><text x="34.8" y="33.6" font-size="22.5" font-weight="700" textLength="72" lengthAdjust="spacingAndGlyphs" stroke-width="0.4">钛媒体</text></g><g transform="translate(422.4 238.2)"><path d="M0 0H32.6V12.5H21.5V8.5H28.3V4.4H0Z M0 6.6H11.6V33H7.2V10.8H0Z M11.6 28.8H16.6V33H11.6Z M14 6.6H18V21.5H14Z M14 23.2H18V27H14Z"/><text x="39.5" y="10.8" font-size="13.4" textLength="65" lengthAdjust="spacingAndGlyphs" stroke-width="0.5">TMTPOST</text><text x="34.8" y="33.6" font-size="22.5" font-weight="700" textLength="72" lengthAdjust="spacingAndGlyphs" stroke-width="0.4">钛媒体</text></g><g transform="translate(337.5 314.2)"><path d="M0 0H32.6V12.5H21.5V8.5H28.3V4.4H0Z M0 6.6H11.6V33H7.2V10.8H0Z M11.6 28.8H16.6V33H11.6Z M14 6.6H18V21.5H14Z M14 23.2H18V27H14Z"/><text x="39.5" y="10.8" font-size="13.4" textLength="65" lengthAdjust="spacingAndGlyphs" stroke-width="0.5">TMTPOST</text><text x="34.8" y="33.6" font-size="22.5" font-weight="700" textLength="72" lengthAdjust="spacingAndGlyphs" stroke-width="0.4">钛媒体</text></g><g transform="translate(422.4 400.2)"><path d="M0 0H32.6V12.5H21.5V8.5H28.3V4.4H0Z M0 6.6H11.6V33H7.2V10.8H0Z M11.6 28.8H16.6V33H11.6Z M14 6.6H18V21.5H14Z M14 23.2H18V27H14Z"/><text x="39.5" y="10.8" font-size="13.4" textLength="65" lengthAdjust="spacingAndGlyphs" stroke-width="0.5">TMTPOST</text><text x="34.8" y="33.6" font-size="22.5" font-weight="700" textLength="72" lengthAdjust="spacingAndGlyphs" stroke-width="0.4">钛媒体</text></g><g transform="translate(337.5 476.2)"><path d="M0 0H32.6V12.5H21.5V8.5H28.3V4.4H0Z M0 6.6H11.6V33H7.2V10.8H0Z M11.6 28.8H16.6V33H11.6Z M14 6.6H18V21.5H14Z M14 23.2H18V27H14Z"/><text x="39.5" y="10.8" font-size="13.4" textLength="65" lengthAdjust="spacingAndGlyphs" stroke-width="0.5">TMTPOST</text><text x="34.8" y="33.6" font-size="22.5" font-weight="700" textLength="72" lengthAdjust="spacingAndGlyphs" stroke-width="0.4">钛媒体</text></g><g transform="translate(422.4 562.2)"><path d="M0 0H32.6V12.5H21.5V8.5H28.3V4.4H0Z M0 6.6H11.6V33H7.2V10.8H0Z M11.6 28.8H16.6V33H11.6Z M14 6.6H18V21.5H14Z M14 23.2H18V27H14Z"/><text x="39.5" y="10.8" font-size="13.4" textLength="65" lengthAdjust="spacingAndGlyphs" stroke-width="0.5">TMTPOST</text><text x="34.8" y="33.6" font-size="22.5" font-weight="700" textLength="72" lengthAdjust="spacingAndGlyphs" stroke-width="0.4">钛媒体</text></g><g transform="translate(337.5 638.2)"><path d="M0 0H32.6V12.5H21.5V8.5H28.3V4.4H0Z M0 6.6H11.6V33H7.2V10.8H0Z M11.6 28.8H16.6V33H11.6Z M14 6.6H18V21.5H14Z M14 23.2H18V27H14Z"/><text x="39.5" y="10.8" font-size="13.4" textLength="65" lengthAdjust="spacingAndGlyphs" stroke-width="0.5">TMTPOST</text><text x="34.8" y="33.6" font-size="22.5" font-weight="700" textLength="72" lengthAdjust="spacingAndGlyphs" stroke-width="0.4">钛媒体</text></g><g transform="translate(501.5 152.2)"><path d="M0 0H32.6V12.5H21.5V8.5H28.3V4.4H0Z M0 6.6H11.6V33H7.2V10.8H0Z M11.6 28.8H16.6V33H11.6Z M14 6.6H18V21.5H14Z M14 23.2H18V27H14Z"/><text x="39.5" y="10.8" font-size="13.4" textLength="65" lengthAdjust="spacingAndGlyphs" stroke-width="0.5">TMTPOST</text><text x="34.8" y="33.6" font-size="22.5" font-weight="700" textLength="72" lengthAdjust="spacingAndGlyphs" stroke-width="0.4">钛媒体</text></g><g transform="translate(586.4 238.2)"><path d="M0 0H32.6V12.5H21.5V8.5H28.3V4.4H0Z M0 6.6H11.6V33H7.2V10.8H0Z M11.6 28.8H16.6V33H11.6Z M14 6.6H18V21.5H14Z M14 23.2H18V27H14Z"/><text x="39.5" y="10.8" font-size="13.4" textLength="65" lengthAdjust="spacingAndGlyphs" stroke-width="0.5">TMTPOST</text><text x="34.8" y="33.6" font-size="22.5" font-weight="700" textLength="72" lengthAdjust="spacingAndGlyphs" stroke-width="0.4">钛媒体</text></g><g transform="translate(501.5 314.2)"><path d="M0 0H32.6V12.5H21.5V8.5H28.3V4.4H0Z M0 6.6H11.6V33H7.2V10.8H0Z M11.6 28.8H16.6V33H11.6Z M14 6.6H18V21.5H14Z M14 23.2H18V27H14Z"/><text x="39.5" y="10.8" font-size="13.4" textLength="65" lengthAdjust="spacingAndGlyphs" stroke-width="0.5">TMTPOST</text><text x="34.8" y="33.6" font-size="22.5" font-weight="700" textLength="72" lengthAdjust="spacingAndGlyphs" stroke-width="0.4">钛媒体</text></g><g transform="translate(586.4 400.2)"><path d="M0 0H32.6V12.5H21.5V8.5H28.3V4.4H0Z M0 6.6H11.6V33H7.2V10.8H0Z M11.6 28.8H16.6V33H11.6Z M14 6.6H18V21.5H14Z M14 23.2H18V27H14Z"/><text x="39.5" y="10.8" font-size="13.4" textLength="65" lengthAdjust="spacingAndGlyphs" stroke-width="0.5">TMTPOST</text><text x="34.8" y="33.6" font-size="22.5" font-weight="700" textLength="72" lengthAdjust="spacingAndGlyphs" stroke-width="0.4">钛媒体</text></g><g transform="translate(501.5 476.2)"><path d="M0 0H32.6V12.5H21.5V8.5H28.3V4.4H0Z M0 6.6H11.6V33H7.2V10.8H0Z M11.6 28.8H16.6V33H11.6Z M14 6.6H18V21.5H14Z M14 23.2H18V27H14Z"/><text x="39.5" y="10.8" font-size="13.4" textLength="65" lengthAdjust="spacingAndGlyphs" stroke-width="0.5">TMTPOST</text><text x="34.8" y="33.6" font-size="22.5" font-weight="700" textLength="72" lengthAdjust="spacingAndGlyphs" stroke-width="0.4">钛媒体</text></g><g transform="translate(586.4 562.2)"><path d="M0 0H32.6V12.5H21.5V8.5H28.3V4.4H0Z M0 6.6H11.6V33H7.2V10.8H0Z M11.6 28.8H16.6V33H11.6Z M14 6.6H18V21.5H14Z M14 23.2H18V27H14Z"/><text x="39.5" y="10.8" font-size="13.4" textLength="65" lengthAdjust="spacingAndGlyphs" stroke-width="0.5">TMTPOST</text><text x="34.8" y="33.6" font-size="22.5" font-weight="700" textLength="72" lengthAdjust="spacingAndGlyphs" stroke-width="0.4">钛媒体</text></g><g transform="translate(501.5 638.2)"><path d="M0 0H32.6V12.5H21.5V8.5H28.3V4.4H0Z M0 6.6H11.6V33H7.2V10.8H0Z M11.6 28.8H16.6V33H11.6Z M14 6.6H18V21.5H14Z M14 23.2H18V27H14Z"/><text x="39.5" y="10.8" font-size="13.4" textLength="65" lengthAdjust="spacingAndGlyphs" stroke-width="0.5">TMTPOST</text><text x="34.8" y="33.6" font-size="22.5" font-weight="700" textLength="72" lengthAdjust="spacingAndGlyphs" stroke-width="0.4">钛媒体</text></g><g transform="translate(586.4 724.2)"><path d="M0 0H32.6V12.5H21.5V8.5H28.3V4.4H0Z M0 6.6H11.6V33H7.2V10.8H0Z M11.6 28.8H16.6V33H11.6Z M14 6.6H18V21.5H14Z M14 23.2H18V27H14Z"/><text x="39.5" y="10.8" font-size="13.4" textLength="65" lengthAdjust="spacingAndGlyphs" stroke-width="0.5">TMTPOST</text><text x="34.8" y="33.6" font-size="22.5" font-weight="700" textLength="72" lengthAdjust="spacingAndGlyphs" stroke-width="0.4">钛媒体</text></g><g transform="translate(750.4 238.2)"><path d="M0 0H32.6V12.5H21.5V8.5H28.3V4.4H0Z M0 6.6H11.6V33H7.2V10.8H0Z M11.6 28.8H16.6V33H11.6Z M14 6.6H18V21.5H14Z M14 23.2H18V27H14Z"/><text x="39.5" y="10.8" font-size="13.4" textLength="65" lengthAdjust="spacingAndGlyphs" stroke-width="0.5">TMTPOST</text><text x="34.8" y="33.6" font-size="22.5" font-weight="700" textLength="72" lengthAdjust="spacingAndGlyphs" stroke-width="0.4">钛媒体</text></g><g transform="translate(645.5 314.2)"><path d="M0 0H32.6V12.5H21.5V8.5H28.3V4.4H0Z M0 6.6H11.6V33H7.2V10.8H0Z M11.6 28.8H16.6V33H11.6Z M14 6.6H18V21.5H14Z M14 23.2H18V27H14Z"/><text x="39.5" y="10.8" font-size="13.4" textLength="65" lengthAdjust="spacingAndGlyphs" stroke-width="0.5">TMTPOST</text><text x="34.8" y="33.6" font-size="22.5" font-weight="700" textLength="72" lengthAdjust="spacingAndGlyphs" stroke-width="0.4">钛媒体</text></g><g transform="translate(645.5 476.2)"><path d="M0 0H32.6V12.5H21.5V8.5H28.3V4.4H0Z M0 6.6H11.6V33H7.2V10.8H0Z M11.6 28.8H16.6V33H11.6Z M14 6.6H18V21.5H14Z M14 23.2H18V27H14Z"/><text x="39.5" y="10.8" font-size="13.4" textLength="65" lengthAdjust="spacingAndGlyphs" stroke-width="0.5">TMTPOST</text><text x="34.8" y="33.6" font-size="22.5" font-weight="700" textLength="72" lengthAdjust="spacingAndGlyphs" stroke-width="0.4">钛媒体</text></g><g transform="translate(645.5 638.2)"><path d="M0 0H32.6V12.5H21.5V8.5H28.3V4.4H0Z M0 6.6H11.6V33H7.2V10.8H0Z M11.6 28.8H16.6V33H11.6Z M14 6.6H18V21.5H14Z M14 23.2H18V27H14Z"/><text x="39.5" y="10.8" font-size="13.4" textLength="65" lengthAdjust="spacingAndGlyphs" stroke-width="0.5">TMTPOST</text><text x="34.8" y="33.6" font-size="22.5" font-weight="700" textLength="72" lengthAdjust="spacingAndGlyphs" stroke-width="0.4">钛媒体</text></g></g></g>
<g id="leaders">
<path d="M140 79.5H173.5V90.5" fill="none" stroke="#9a9a9a" stroke-width="1"/>
<path d="M222 79.5H188.5V90.5" fill="none" stroke="#9a9a9a" stroke-width="1"/>
</g>
<g id="labels">
<text y="42.5" font-size="18.6" fill="#161616" stroke="#161616" stroke-width="0.3"><tspan x="53.6" textLength="66.6" lengthAdjust="spacingAndGlyphs">2022H1</tspan><tspan x="122.2" textLength="204.2" lengthAdjust="spacingAndGlyphs">新成立基金类型数量分布</tspan></text>
<text y="42.5" font-size="18.6" fill="#161616" stroke="#161616" stroke-width="0.3"><tspan x="451" textLength="66.6" lengthAdjust="spacingAndGlyphs">2022H1</tspan><tspan x="519.6" textLength="241.4" lengthAdjust="spacingAndGlyphs">新成立基金类型募集金额分布</tspan></text>
<text x="111.0" y="87.2" font-size="20.5" fill="#161616" textLength="26.4" lengthAdjust="spacingAndGlyphs" stroke="#161616" stroke-width="0.2">2%</text>
<text x="228.4" y="87.2" font-size="20.5" fill="#161616" textLength="24.4" lengthAdjust="spacingAndGlyphs" stroke="#161616" stroke-width="0.2">1%</text>
<text x="103.4" y="257.6" font-size="19" fill="#fff" textLength="34.5" lengthAdjust="spacingAndGlyphs">43%</text>
<text x="264.5" y="257.6" font-size="19" fill="#fff" textLength="36" lengthAdjust="spacingAndGlyphs">54%</text>
<text x="498.2" y="253.0" font-size="19" fill="#fff" textLength="36" lengthAdjust="spacingAndGlyphs">25%</text>
<text x="680.2" y="253.0" font-size="19" fill="#fff" textLength="36" lengthAdjust="spacingAndGlyphs">51%</text>
<text x="555.3" y="327.2" font-size="19" fill="#fff" textLength="25" lengthAdjust="spacingAndGlyphs">9%</text>
<text x="531" y="157" font-size="19" fill="#fff" textLength="36" lengthAdjust="spacingAndGlyphs">12%</text>
<text x="581.2" y="118.5" font-size="20" fill="#fff" textLength="22.4" lengthAdjust="spacingAndGlyphs" opacity="0.88">3%</text>
</g>
<g id="legend">
<rect x="40.6" y="414.4" width="17" height="16" fill="#720C1F"/>
<text x="69.2" y="426.3" font-size="12.6" fill="#222" textLength="42.6" lengthAdjust="spacingAndGlyphs" stroke="#222" stroke-width="0.2">Growth</text>
<rect x="127.6" y="414.4" width="17" height="16" fill="#C50A2E"/>
<text x="153.4" y="426.3" font-size="12.6" fill="#222" textLength="45.4" lengthAdjust="spacingAndGlyphs" stroke="#222" stroke-width="0.2">Venture</text>
<rect x="210.6" y="414.4" width="17" height="16" fill="#FD7378"/>
<text x="239.3" y="426.3" font-size="12.6" fill="#222" textLength="64" lengthAdjust="spacingAndGlyphs" stroke="#222" stroke-width="0.2">NEEQ Fund</text>
<rect x="317.6" y="414.4" width="17" height="16" fill="#FD7378"/>
<text x="344.0" y="426.3" font-size="12.6" fill="#222" textLength="21.8" lengthAdjust="spacingAndGlyphs" stroke="#222" stroke-width="0.2">FOF</text>
<rect x="383.8" y="414.4" width="17" height="16" fill="#DB3446"/>
<text x="412.2" y="426.3" font-size="12.6" fill="#222" textLength="78" lengthAdjust="spacingAndGlyphs" stroke="#222" stroke-width="0.2">Infrasturcture</text>
<rect x="503.8" y="414.4" width="17" height="16" fill="#FD7378"/>
<text x="532.2" y="426.3" font-size="12.6" fill="#222" textLength="40.6" lengthAdjust="spacingAndGlyphs" stroke="#222" stroke-width="0.2">Buyout</text>
<rect x="587.2" y="414.4" width="17" height="16" fill="#DB3446"/>
<text x="615.5" y="426.3" font-size="12.6" fill="#222" textLength="79" lengthAdjust="spacingAndGlyphs" stroke="#222" stroke-width="0.2">Gov.Matching</text>
<rect x="704.9" y="414.4" width="17" height="16" fill="#FD7378"/>
<text x="734.0" y="426.3" font-size="12.6" fill="#222" textLength="33.6" lengthAdjust="spacingAndGlyphs" stroke="#222" stroke-width="0.2">Angel</text>
</g>
<g id="footer">
<text x="43" y="459.6" font-size="14.2" fill="#4a4a4a" font-weight="bold" textLength="66.5" lengthAdjust="spacing">数据来源</text>
<text x="110.3" y="459.6" font-size="14.2" fill="#4a4a4a" font-weight="bold" textLength="2.6" lengthAdjust="spacing">:</text>
<text x="113.8" y="459.6" font-size="12.8" fill="#4a4a4a" font-weight="bold" textLength="78.7" lengthAdjust="spacing">CVSource</text>
<text x="195" y="459.6" font-size="14.2" fill="#4a4a4a" font-weight="bold" textLength="62" lengthAdjust="spacing">投中数据</text>
<text x="257.3" y="459.6" font-size="14.2" fill="#4a4a4a" font-weight="bold" textLength="6" lengthAdjust="spacing">、</text>
<text x="264.5" y="459.6" font-size="14.2" fill="#4a4a4a" font-weight="bold" textLength="46.7" lengthAdjust="spacing">天眼查</text>
<text x="311.5" y="459.6" font-size="14.2" fill="#4a4a4a" font-weight="bold" textLength="6" lengthAdjust="spacing">、</text>
<text x="319.5" y="459.6" font-size="14.2" fill="#4a4a4a" font-weight="bold" textLength="58" lengthAdjust="spacing">公开渠道</text>
<text x="632" y="459.6" font-size="14.2" fill="#4a4a4a" font-weight="bold" textLength="119.3" lengthAdjust="spacing">图表由钛媒体绘制</text>
</g>
</svg>
</body>
</html>
